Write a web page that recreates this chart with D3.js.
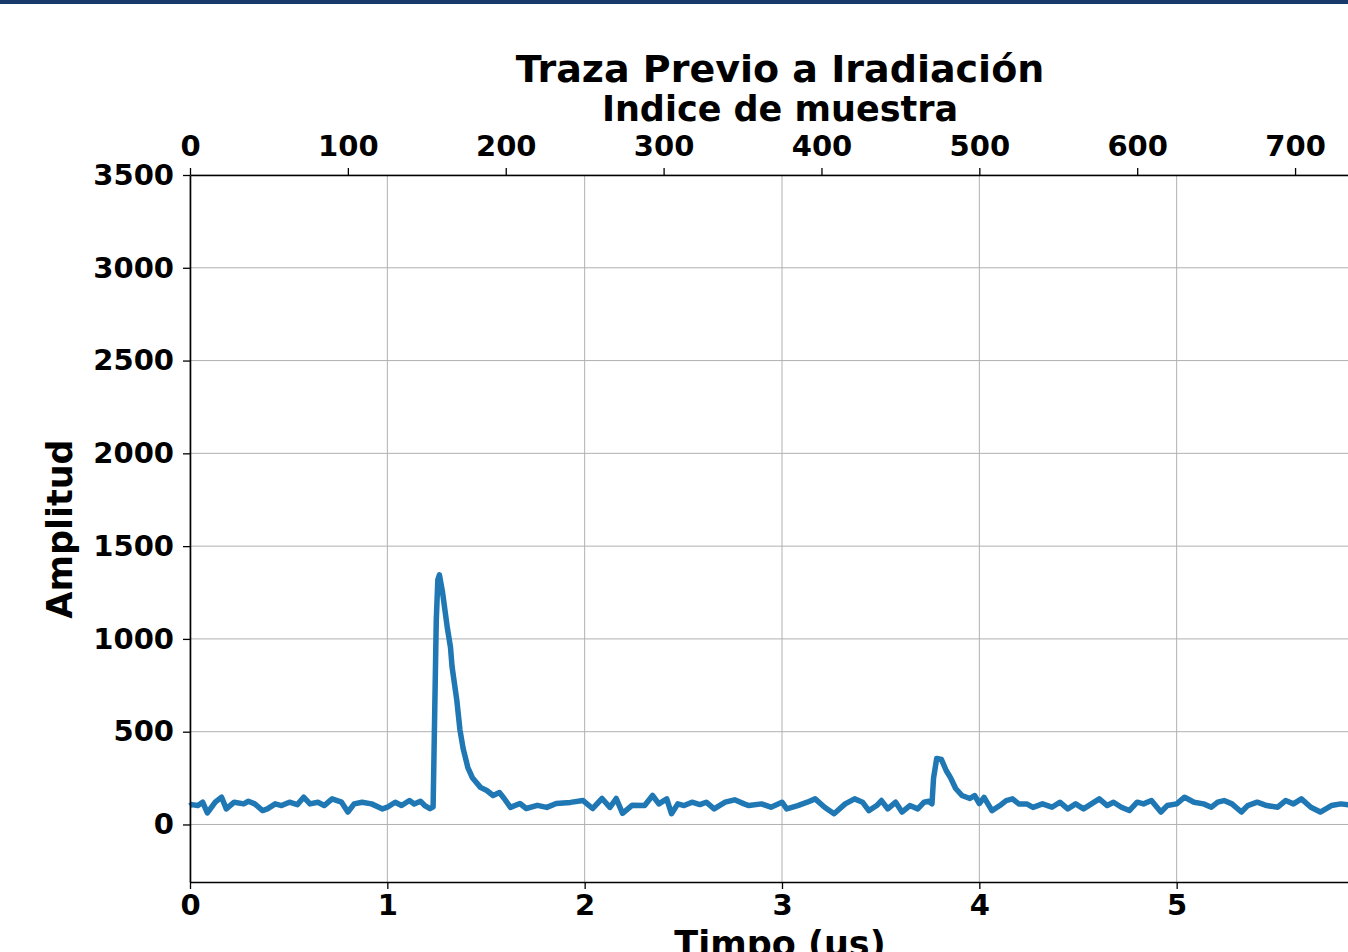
<!DOCTYPE html>
<html>
<head>
<meta charset="utf-8">
<script src="https://cdn.jsdelivr.net/npm/d3@7"></script>
<style>
  body { margin: 0; background: #fff; }
  svg text { font-family: "DejaVu Sans", sans-serif; font-weight: bold; }
</style>
</head>
<body>
<svg id="chart"></svg>
<script>
// sample index (top axis) and amplitude
const sampleIdx = [0,1,5,8,11,16,20,23,28,34,37,41,46,49,54,58,63,68,72,76,81,85,90,96,100,104,109,115,122,125,130,134,139,142,146,149,152,154,155,156,157,158,160,163,165,166,169,171,173,176,179,184,188,192,196,199,203,209,213,220,226,232,241,249,255,261,266,270,274,280,288,293,297,302,305,309,313,318,323,327,332,339,345,351,354,362,368,375,378,385,391,396,402,408,415,421,426,430,435,438,442,447,451,456,461,465,468,470,471,473,476,479,482,485,489,494,497,500,503,508,513,517,521,525,530,534,540,546,551,556,561,566,571,576,581,585,590,595,600,604,609,615,619,625,630,636,642,647,651,655,660,666,670,676,682,689,694,699,704,710,716,723,729,735];
const amplitude = [100,107,102,120,62,120,147,84,120,111,125,111,75,84,111,102,120,107,147,111,120,102,138,120,67,111,120,111,84,93,120,102,129,110,125,100,85,95,600,1100,1320,1345,1250,1060,955,850,670,510,410,307,250,200,183,156,172,140,92,113,86,103,92,113,119,129,86,140,92,140,60,103,102,156,111,138,58,111,102,120,107,120,84,120,133,111,102,111,93,120,84,102,120,138,93,58,111,138,120,75,102,129,84,120,67,102,84,120,125,111,250,356,350,291,248,194,156,140,156,113,146,75,102,129,138,111,111,92,111,93,120,84,111,84,111,138,102,120,93,75,120,111,129,67,102,111,147,120,111,93,120,129,111,67,102,120,102,93,129,111,138,93,67,102,111,105];

const timeTicks = [0,1,2,3,4,5];
const sampleTicks = [0,100,200,300,400,500,600,700];
const ampTicks = [0,500,1000,1500,2000,2500,3000,3500];
const usPerSample = 0.008;

const width = 1348, height = 952;
const mLeft = 190, mTop = 175, mBottom = 882, mRight = 1374;

const svg = d3.select("#chart").attr("width", width).attr("height", height);
svg.append("rect").attr("width", width).attr("height", height).attr("fill", "#fff");
svg.append("rect").attr("width", width).attr("height", 4).attr("fill", "#173a6b");

const x = d3.scaleLinear().domain([0, 6]).range([mLeft, mRight]);
const xTop = d3.scaleLinear().domain([0, 6 / usPerSample]).range([mLeft, mRight]);
const y = d3.scaleLinear().domain([-310, 3500]).range([mBottom, mTop]);

// grid
svg.append("g").selectAll("line").data(ampTicks).enter().append("line")
  .attr("x1", mLeft).attr("x2", mRight).attr("y1", d => y(d)).attr("y2", d => y(d))
  .attr("stroke", "#b0b0b0").attr("stroke-width", 1);
svg.append("g").selectAll("line").data(timeTicks).enter().append("line")
  .attr("y1", mTop).attr("y2", mBottom).attr("x1", d => x(d)).attr("x2", d => x(d))
  .attr("stroke", "#b0b0b0").attr("stroke-width", 1);

// trace
const pts = sampleIdx.map((s, i) => [s * usPerSample, amplitude[i]]);
svg.append("path").datum(pts)
  .attr("fill", "none").attr("stroke", "#1f77b4").attr("stroke-width", 5.5)
  .attr("stroke-linejoin", "round")
  .attr("d", d3.line().x(d => x(d[0])).y(d => y(d[1])));

// axes
const styleAxis = g => {
  g.select(".domain").attr("stroke", "#000").attr("stroke-width", 1.6);
  g.selectAll(".tick line").attr("stroke", "#000").attr("stroke-width", 1.3);
  g.selectAll(".tick text").attr("fill", "#000").style("font-size", "29px");
};

svg.append("g").attr("transform", `translate(0,${mBottom})`)
  .call(d3.axisBottom(x).tickValues(timeTicks).tickFormat(d3.format("d")).tickSize(7).tickSizeOuter(0).tickPadding(5))
  .call(styleAxis);
svg.append("g").attr("transform", `translate(0,${mTop})`)
  .call(d3.axisTop(xTop).tickValues(sampleTicks).tickFormat(d3.format("d")).tickSize(7).tickSizeOuter(0).tickPadding(12))
  .call(styleAxis);
svg.append("g").attr("transform", `translate(${mLeft},0)`)
  .call(d3.axisLeft(y).tickValues(ampTicks).tickFormat(d3.format("d")).tickSize(7).tickSizeOuter(0).tickPadding(9))
  .call(styleAxis);

// titles
svg.append("text").attr("x", 780).attr("y", 82).attr("text-anchor", "middle")
  .style("font-size", "38px").text("Traza Previo a Iradiación");
svg.append("text").attr("x", 780).attr("y", 121).attr("text-anchor", "middle")
  .style("font-size", "35px").text("Indice de muestra");
svg.append("text").attr("x", 780).attr("y", 956).attr("text-anchor", "middle")
  .style("font-size", "35px").text("Timpo (us)");
svg.append("text").attr("transform", "translate(72,529) rotate(-90)").attr("text-anchor", "middle")
  .style("font-size", "35px").text("Amplitud");
</script>
</body>
</html>
